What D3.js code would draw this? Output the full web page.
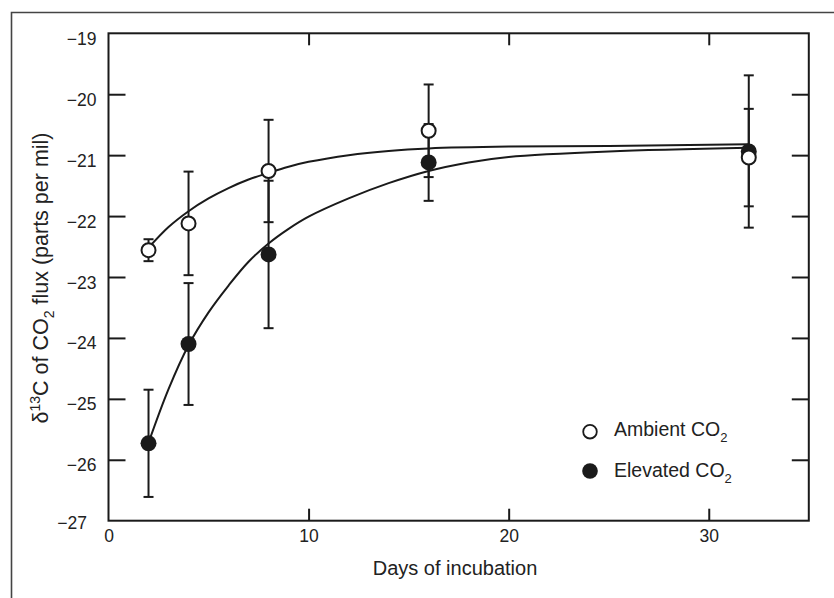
<!DOCTYPE html>
<html>
<head>
<meta charset="utf-8">
<style>
  * { margin: 0; padding: 0; }
  body { background: #fff; }
  svg { display: block; }
  text { font-family: "Liberation Sans", Arial, sans-serif; fill: #222; }
</style>
</head>
<body>
<div id="chart"></div>
<script src="https://cdn.jsdelivr.net/npm/d3@7"></script>
<script>
// measured points (mean and error bar half-width)
const days = [2, 4, 8, 16, 32];
const ambientMean = [-22.56, -22.12, -21.26, -20.60, -21.04];
const ambientErr = [0.18, 0.85, 0.84, 0.76, 0.80];
const elevatedMean = [-25.73, -24.10, -22.63, -21.12, -20.94];
const elevatedErr = [0.88, 1.00, 1.21, 0.63, 1.25];

// fitted curves
const ambientFitDays = [2, 3, 4, 5, 6, 7, 8, 9, 10, 12, 14, 16, 20, 25, 32];
const ambientFit = [-22.52, -22.18, -21.92, -21.71, -21.54, -21.40, -21.29, -21.19, -21.11, -21.00, -20.93, -20.89, -20.86, -20.85, -20.82];
const elevatedFitDays = [2, 3, 4, 5, 6, 7, 8, 9, 10, 12, 14, 16, 18, 20, 25, 32];
const elevatedFit = [-25.72, -24.84, -24.12, -23.58, -23.14, -22.75, -22.45, -22.21, -22.01, -21.71, -21.46, -21.26, -21.12, -21.03, -20.94, -20.88];

const xTicks = [0, 10, 20, 30];
const yTicks = [-19, -20, -21, -22, -23, -24, -25, -26, -27];
const legendLabels = ['Ambient CO', 'Elevated CO'];

const W = 834, H = 598;
const pL = 108.5, pR = 808.8, pT = 33.3, pB = 520.7;
const ink = '#1a1a1a';
const minus = '\u2212';

const x = d3.scaleLinear().domain([0, 35]).range([pL, pR]);
const y = d3.scaleLinear().domain([-27, -19]).range([pB, pT]);

const svg = d3.select('#chart').append('svg')
  .attr('width', W).attr('height', H).attr('viewBox', [0, 0, W, H]);

// outer figure frame (top and left edges only visible)
svg.append('path')
  .attr('d', 'M11.5,598V12.5H834')
  .attr('fill', 'none').attr('stroke', '#444').attr('stroke-width', 1.6);

// inward ticks on all four sides
const innerY = yTicks.filter(d => d > -27 && d < -19);
const innerX = xTicks.filter(d => d > 0);
function ticks(axis, tx, ty) {
  const g = svg.append('g').attr('transform', `translate(${tx},${ty})`).call(axis);
  g.select('.domain').remove();
  g.selectAll('line').attr('stroke', ink).attr('stroke-width', 2);
  g.selectAll('text').remove();
}
ticks(d3.axisLeft(y).tickValues(innerY).tickSize(-17), pL, 0);
ticks(d3.axisRight(y).tickValues(innerY).tickSize(-17), pR, 0);
ticks(d3.axisBottom(x).tickValues(innerX).tickSize(-12), 0, pB);
ticks(d3.axisTop(x).tickValues(innerX).tickSize(-12), 0, pT);

// plot box
svg.append('rect')
  .attr('x', pL).attr('y', pT)
  .attr('width', pR - pL).attr('height', pB - pT)
  .attr('fill', 'none').attr('stroke', ink).attr('stroke-width', 2);

// tick labels
const yl = svg.append('g').attr('transform', `translate(${pL},0)`)
  .call(d3.axisLeft(y).tickValues(yTicks).tickSize(0).tickPadding(12)
    .tickFormat(d => minus + Math.abs(d)));
yl.select('.domain').remove();
yl.selectAll('text')
  .attr('font-size', 17.5).attr('dy', null)
  .attr('y', 11)
  .style('font-family', '"Liberation Sans", Arial, sans-serif').attr('fill', '#222');
yl.selectAll('.tick').filter(d => d === -27).select('text').attr('x', -21.5).attr('y', 8);

const xl = svg.append('g').attr('transform', `translate(0,${pB})`)
  .call(d3.axisBottom(x).tickValues(xTicks).tickSize(0).tickPadding(9));
xl.select('.domain').remove();
xl.selectAll('text').attr('font-size', 17.5)
  .style('font-family', '"Liberation Sans", Arial, sans-serif').attr('fill', '#222');

// axis titles
svg.append('text')
  .attr('x', 455).attr('y', 575).attr('text-anchor', 'middle')
  .attr('font-size', 20).text('Days of incubation');

const yt = svg.append('text')
  .attr('transform', `translate(48,${(pT + pB) / 2 + 1}) rotate(-90)`)
  .attr('text-anchor', 'middle').attr('font-size', 21.5);
yt.append('tspan').text('\u03b4');
yt.append('tspan').attr('font-size', 14).attr('dy', -8).text('13');
yt.append('tspan').attr('dy', 8).text('C of CO');
yt.append('tspan').attr('font-size', 14).attr('dy', 6).text('2');
yt.append('tspan').attr('dy', -6).text(' flux (parts per mil)');

// fitted curves
const line = d3.line().x(d => x(d[0])).y(d => y(d[1])).curve(d3.curveCatmullRom.alpha(0.5));
[[ambientFitDays, ambientFit], [elevatedFitDays, elevatedFit]].forEach(([dx, dv]) => {
  svg.append('path')
    .datum(dx.map((d, i) => [d, dv[i]]))
    .attr('d', line)
    .attr('fill', 'none').attr('stroke', ink).attr('stroke-width', 2);
});

// error bars
const series = [
  { mean: elevatedMean, err: elevatedErr, fill: ink },
  { mean: ambientMean, err: ambientErr, fill: '#fff' }
];
const eb = svg.append('g').attr('stroke', ink).attr('stroke-width', 2);
series.forEach(s => {
  days.forEach((d, i) => {
    const cx = x(d), y0 = y(s.mean[i] + s.err[i]), y1 = y(s.mean[i] - s.err[i]);
    eb.append('line').attr('x1', cx).attr('x2', cx).attr('y1', y0).attr('y2', y1);
    eb.append('line').attr('x1', cx - 5).attr('x2', cx + 5).attr('y1', y0).attr('y2', y0);
    eb.append('line').attr('x1', cx - 5).attr('x2', cx + 5).attr('y1', y1).attr('y2', y1);
  });
});

// points
series.forEach(s => {
  svg.append('g').selectAll('circle')
    .data(days.map((d, i) => [d, s.mean[i]]))
    .join('circle')
    .attr('cx', d => x(d[0])).attr('cy', d => y(d[1]))
    .attr('r', s.fill === '#fff' ? 7 : 8)
    .attr('fill', s.fill)
    .attr('stroke', ink).attr('stroke-width', s.fill === '#fff' ? 2 : 0);
});

// legend
const lg = svg.append('g');
[{ label: legendLabels[0], fill: '#fff', cy: 431.7, by: 436 },
 { label: legendLabels[1], fill: ink, cy: 471, by: 477 }].forEach(item => {
  lg.append('circle').attr('cx', 590).attr('cy', item.cy)
    .attr('r', item.fill === '#fff' ? 6.8 : 7.8)
    .attr('fill', item.fill).attr('stroke', ink)
    .attr('stroke-width', item.fill === '#fff' ? 1.8 : 0);
  const t = lg.append('text').attr('x', 614).attr('y', item.by).attr('font-size', 19.5);
  t.append('tspan').text(item.label);
  t.append('tspan').attr('font-size', 13).attr('dy', 6).text('2');
});
</script>
</body>
</html>
